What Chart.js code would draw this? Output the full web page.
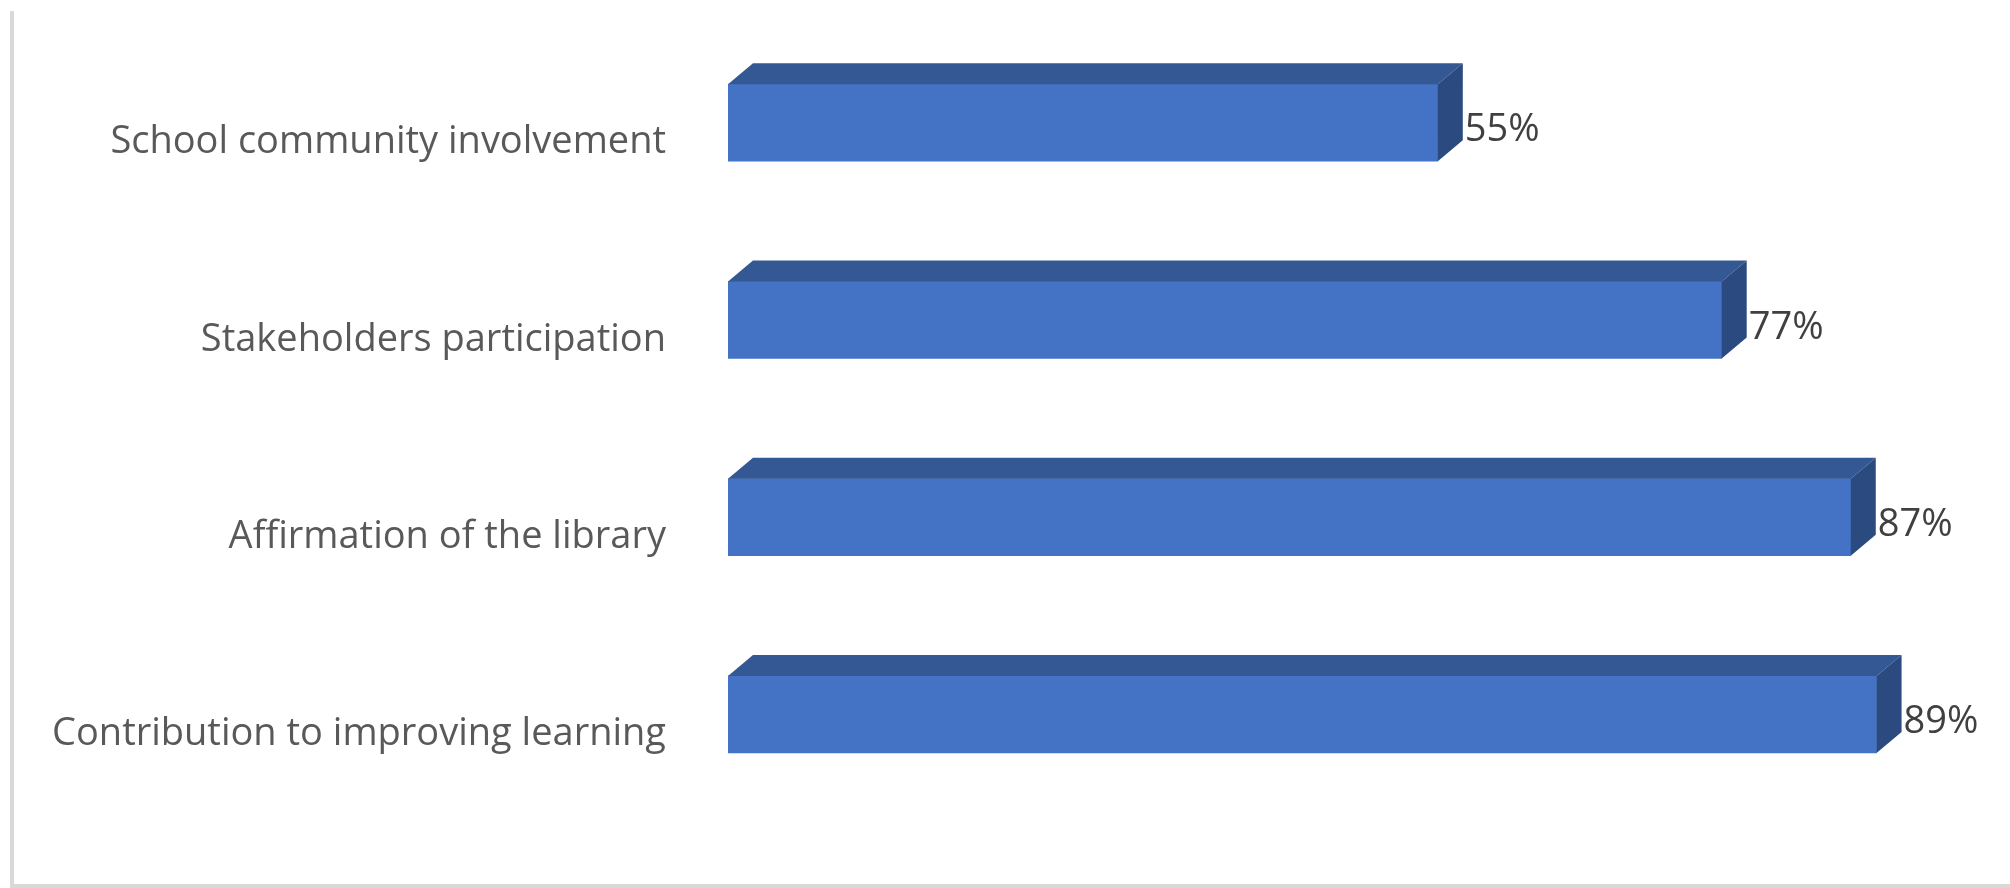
<!DOCTYPE html>
<html lang="en">
<head>
    <meta charset="UTF-8">
    <title>Library contribution</title>
    <script src="https://cdn.jsdelivr.net/npm/chart.js"></script>
    <style>
        body {
            margin: 0;
            background-color: white;
        }
        #frame {
            position: absolute;
            left: 10px;
            top: 11px;
            width: 2010px;
            height: 873px;
            border-left: 4px solid #d9d9d9;
            border-bottom: 4px solid #d9d9d9;
        }
        #chartContainer {
            position: absolute;
            left: 0;
            top: 0;
            width: 2010px;
            height: 888px;
        }
    </style>
</head>
<body>

    <div id="frame"></div>
    <div id="chartContainer">
        <canvas id="barChart"></canvas>
    </div>

    <script>
        const categories = [
            'School community involvement',
            'Stakeholders participation',
            'Affirmation of the library',
            'Contribution to improving learning'
        ];
        const percentValues = [55, 77, 87, 89];
        const valueLabels = ['55%', '77%', '87%', '89%'];

        const frontColor = '#4472c4';
        const topColor = '#335894';
        const sideColor = '#2b4a80';
        const depthX = 25;   // fake 3d offset
        const depthY = 21;

        // draws the top and side faces + value labels
        const fake3d = {
            id: 'fake3d',
            afterDatasetsDraw(chart) {
                const ctx = chart.ctx;
                const meta = chart.getDatasetMeta(0);
                ctx.save();
                meta.data.forEach((bar, i) => {
                    const top = bar.y - bar.height / 2;
                    const bottom = bar.y + bar.height / 2;

                    ctx.fillStyle = topColor;
                    ctx.beginPath();
                    ctx.moveTo(bar.base, top);
                    ctx.lineTo(bar.x, top);
                    ctx.lineTo(bar.x + depthX, top - depthY);
                    ctx.lineTo(bar.base + depthX, top - depthY);
                    ctx.closePath();
                    ctx.fill();

                    ctx.fillStyle = sideColor;
                    ctx.beginPath();
                    ctx.moveTo(bar.x, top);
                    ctx.lineTo(bar.x + depthX, top - depthY);
                    ctx.lineTo(bar.x + depthX, bottom - depthY);
                    ctx.lineTo(bar.x, bottom);
                    ctx.closePath();
                    ctx.fill();

                    ctx.fillStyle = '#404040';
                    ctx.font = '38px "Open Sans"';
                    ctx.textAlign = 'left';
                    ctx.textBaseline = 'middle';
                    ctx.fillText(valueLabels[i], bar.x + depthX + 2, bar.y + 8);
                });
                ctx.restore();
            }
        };

        new Chart(document.getElementById('barChart'), {
            type: 'bar',
            data: {
                labels: categories,
                datasets: [{
                    data: percentValues,
                    backgroundColor: frontColor,
                    borderWidth: 0,
                    barThickness: 77
                }]
            },
            options: {
                indexAxis: 'y',
                responsive: true,
                maintainAspectRatio: false,
                animation: false,
                layout: {
                    padding: { top: 24, bottom: 75, right: 56, left: 0 }
                },
                plugins: {
                    legend: { display: false },
                    tooltip: { enabled: false }
                },
                scales: {
                    x: {
                        display: false,
                        min: 0,
                        max: 95
                    },
                    y: {
                        afterFit(scale) {
                            scale.width = 728;
                            scale.paddingTop = 0;
                            scale.paddingBottom = 0;
                        },
                        grid: { display: false, drawTicks: false },
                        border: { display: false },
                        ticks: {
                            color: '#595959',
                            font: { family: 'Open Sans', size: 38 },
                            padding: 62,
                            labelOffset: 20
                        }
                    }
                }
            },
            plugins: [fake3d]
        });
    </script>
</body>
</html>
